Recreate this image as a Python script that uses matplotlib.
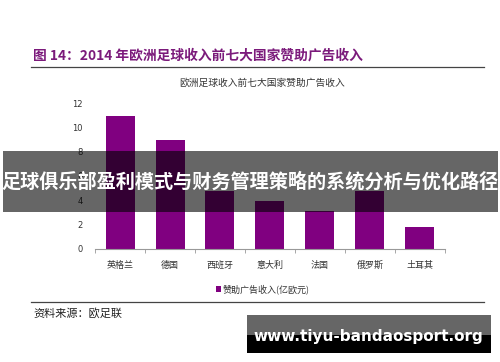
import matplotlib.pyplot as plt
from matplotlib.lines import Line2D
from matplotlib.patches import Rectangle
import numpy as np

plt.rcParams['font.family'] = ['Noto Sans CJK SC', 'DejaVu Sans']

# 数据
paises = ['英格兰', '德国', '西班牙', '意大利', '法国', '俄罗斯', '土耳其']
ingresos = [10.95, 9.0, 4.75, 3.9, 3.1, 4.75, 1.75]
yticks = [0, 2, 4, 6, 8, 10, 12]

W, H = 500, 362
fig = plt.figure(figsize=(W / 100, H / 100), dpi=100)
fig.patch.set_facecolor('white')

def fx(px):
    return px / W

def fy(py):
    return 1 - py / H

# titulo y lineas
fig.text(fx(33), fy(55), '图 14：2014 年欧洲足球收入前七大国家赞助广告收入',
         color='#7b1a7b', fontsize=9.9, fontweight='bold', va='center', ha='left')
fig.add_artist(Line2D([fx(31), fx(484)], [fy(67.3), fy(67.3)], color='#444444', lw=0.9))
fig.text(fx(262), fy(83), '欧洲足球收入前七大国家赞助广告收入',
         color='#333333', fontsize=7, va='center', ha='center')

# grafico
ax = fig.add_axes([fx(95), fy(248.5), 350 / W, 145.2 / H])
x = np.arange(len(paises))
ax.bar(x, ingresos, width=0.58, color='#800080', label='赞助广告收入(亿欧元)')
ax.set_xlim(-0.5, len(paises) - 0.5)
ax.set_ylim(0, 12)
ax.set_yticks(yticks)
ax.set_yticklabels([str(v) for v in yticks], fontsize=6, color='#333333',
                   family='DejaVu Sans')
ax.tick_params(axis='y', length=0, pad=9)
ax.set_xticks(x)
ax.set_xticklabels(paises, fontsize=6.5, color='#333333')
ax.tick_params(axis='x', length=0, pad=9)
ax.set_xticks(np.arange(-0.5, len(paises)), minor=True)
ax.tick_params(axis='x', which='minor', length=3, color='#999999', direction='out')
for s in ['top', 'right', 'left']:
    ax.spines[s].set_visible(False)
ax.spines['bottom'].set_color('#999999')
ax.spines['bottom'].set_linewidth(0.8)
ax.legend(loc='center', bbox_to_anchor=(fx(263), fy(289)), bbox_transform=fig.transFigure,
          frameon=False, fontsize=6.5, handlelength=0.6, handleheight=0.6,
          handletextpad=0.2, labelcolor='#333333')

# pie
fig.add_artist(Line2D([fx(31), fx(484)], [fy(302.3), fy(302.3)], color='#444444', lw=0.9))
fig.text(fx(33), fy(313), '资料来源：欧足联', color='#222222', fontsize=8, va='center', ha='left')

# banda superpuesta
fig.add_artist(Rectangle((fx(3), fy(211.5)), fx(495), (211.5 - 151) / H,
                         transform=fig.transFigure, facecolor='black', alpha=0.6,
                         edgecolor='none', zorder=10))
fig.text(fx(250), fy(181.5), '足球俱乐部盈利模式与财务管理策略的系统分析与优化路径',
         color='white', fontsize=13.8, fontweight='bold', va='center', ha='center', zorder=11)

# marca de agua
fig.add_artist(Rectangle((fx(246.5), fy(335)), (490.7 - 246.5) / W, 20 / H,
                         transform=fig.transFigure, facecolor='#666666', edgecolor='none', zorder=10))
fig.add_artist(Rectangle((fx(246.5), fy(352.7)), (490.7 - 246.5) / W, 17.7 / H,
                         transform=fig.transFigure, facecolor='black', edgecolor='none', zorder=10))
fig.text(fx(368), fy(336), 'www.tiyu-bandaosport.org', color='white', fontsize=11,
         fontweight='bold', va='center', ha='center', family='DejaVu Sans', zorder=11)

fig.savefig('out.png', dpi=100)
